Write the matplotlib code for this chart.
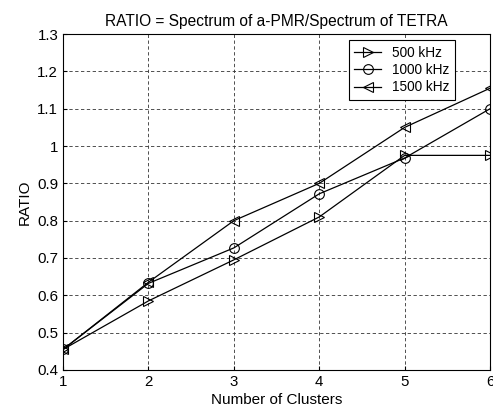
import numpy as np
import matplotlib.pyplot as plt

plt.rcParams['font.family'] = ['Liberation Sans', 'DejaVu Sans']

# --- data ---
clusters = [1, 2, 3, 4, 5, 6]
ratio_500 = [0.455, 0.585, 0.695, 0.81, 0.975, 0.975]
ratio_1000 = [0.455, 0.632, 0.727, 0.872, 0.968, 1.10]
ratio_1500 = [0.455, 0.635, 0.80, 0.90, 1.05, 1.155]

fig = plt.figure(figsize=(4.93, 4.11), dpi=100)
ax = fig.add_axes([0.128, 0.1, 0.866, 0.817])

ax.plot(clusters, ratio_500, color="black", lw=0.9, marker=">", ms=7,
        mfc="none", mec="black", mew=0.8, label="500 kHz")
ax.plot(clusters, ratio_1000, color="black", lw=0.9, marker="o", ms=7,
        mfc="none", mec="black", mew=0.8, label="1000 kHz")
ax.plot(clusters, ratio_1500, color="black", lw=0.9, marker="<", ms=7,
        mfc="none", mec="black", mew=0.8, label="1500 kHz")

ax.set_xlim(1, 6)
ax.set_ylim(0.4, 1.3)
ax.set_xticks(clusters)
ax.set_yticks(np.arange(0.4, 1.31, 0.1))
ax.set_yticklabels(["0.4", "0.5", "0.6", "0.7", "0.8", "0.9", "1", "1.1", "1.2", "1.3"])
ax.grid(True, color="#333333", linestyle=(0, (4, 3)), lw=0.6)
ax.tick_params(direction="in", labelsize=10.8, length=3)
for s in ax.spines.values():
    s.set_linewidth(0.8)

ax.set_xlabel("Number of Clusters", fontsize=11, labelpad=3)
ax.set_ylabel("RATIO", fontsize=11)
ax.set_title("RATIO = Spectrum of a-PMR/Spectrum of TETRA", fontsize=11.2, pad=6)

leg = ax.legend(loc="upper right", bbox_to_anchor=(0.918, 0.982), fontsize=9.8,
                frameon=True, fancybox=False, edgecolor="black", framealpha=1,
                handlelength=2.0, borderpad=0.4, labelspacing=0.25,
                borderaxespad=0)
leg.get_frame().set_linewidth(0.8)

plt.savefig("out.png", dpi=100)
